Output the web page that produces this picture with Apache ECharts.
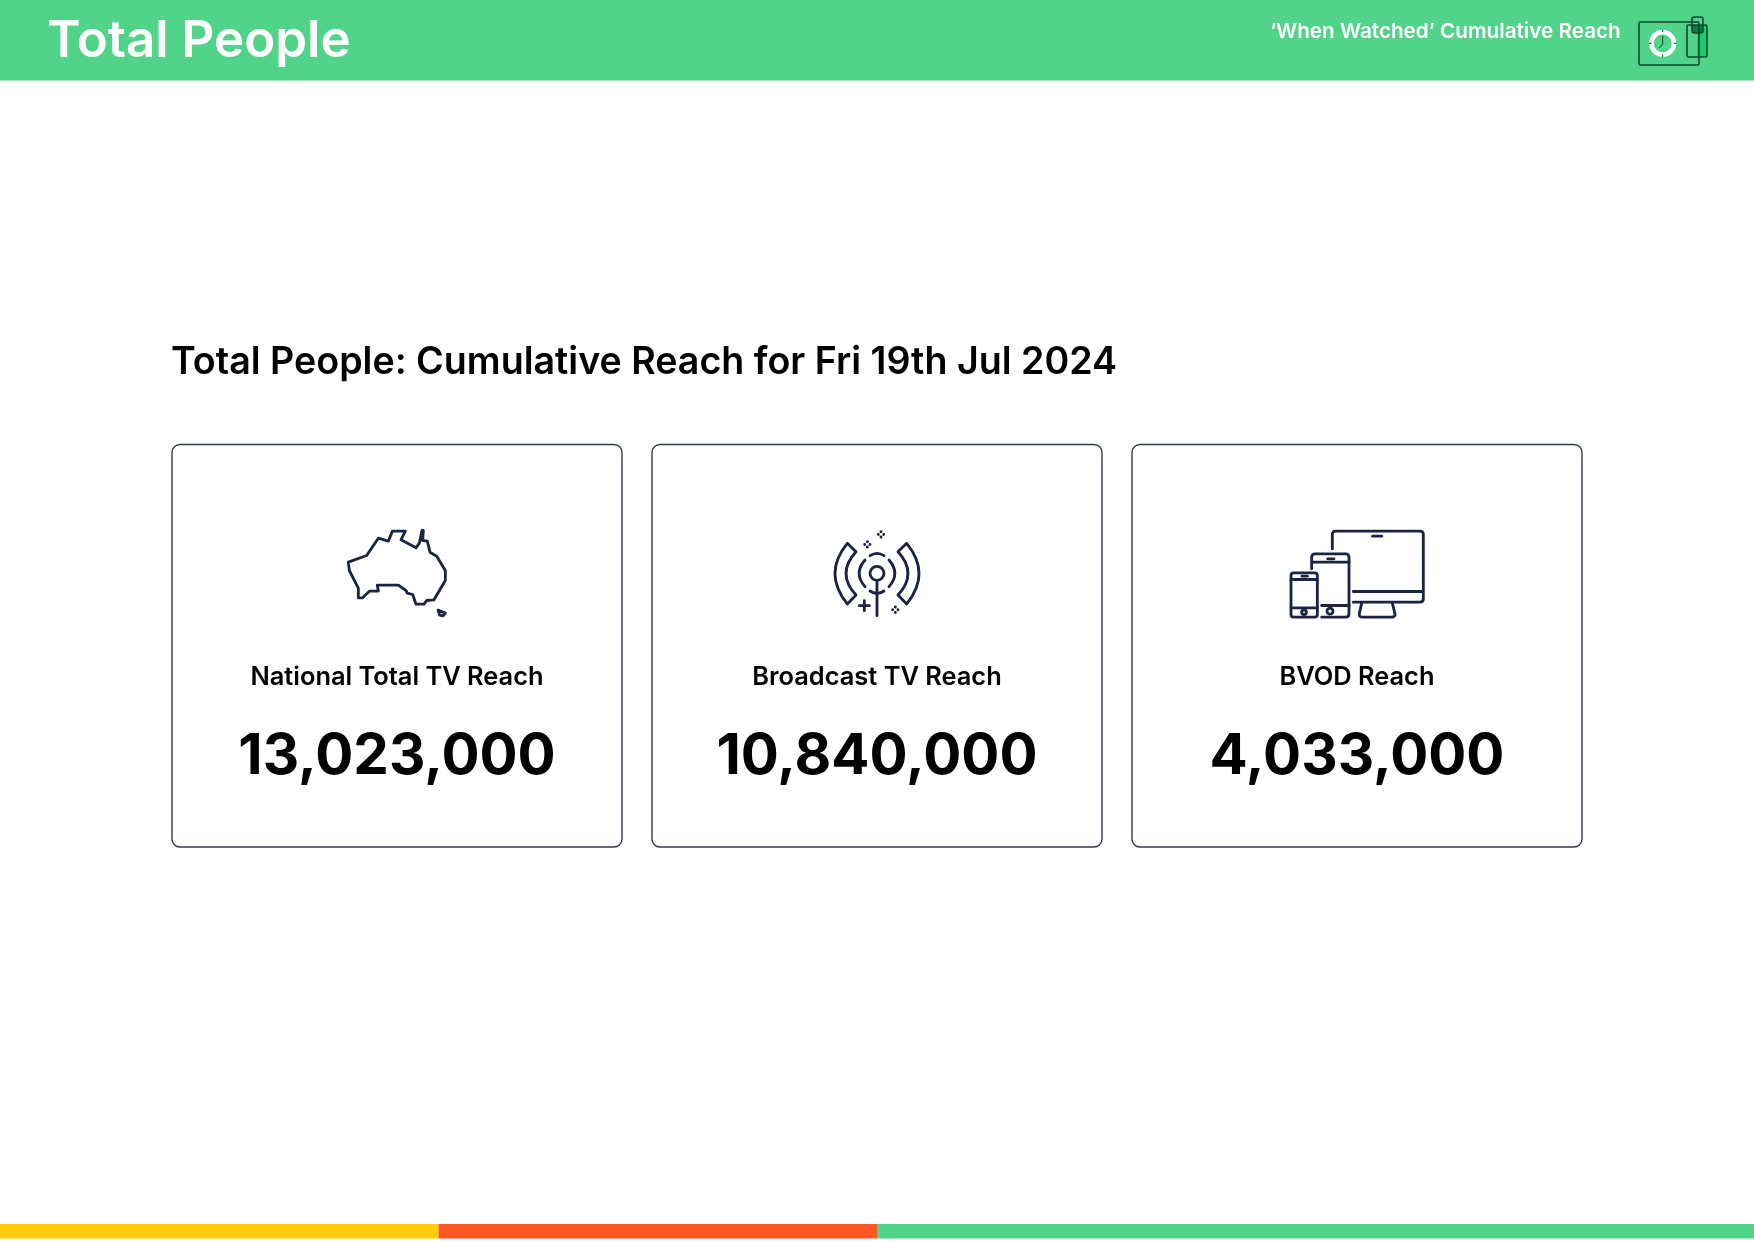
<!DOCTYPE html>
<html>
<head>
<meta charset="utf-8">
<title>Total People</title>
<style>
  html, body { margin: 0; padding: 0; background: #fff; }
  #chart { width: 1754px; height: 1241px; }
</style>
<script src="https://cdn.jsdelivr.net/npm/echarts@6/dist/echarts.min.js"></script>
</head>
<body>
<div id="chart"></div>
<script>
const headerTitle = "Total People"
const headerNote = "\u2018When Watched\u2019 Cumulative Reach"
const pageTitle = "Total People: Cumulative Reach for Fri 19th Jul 2024"
const cardLabels = ["National Total TV Reach", "Broadcast TV Reach", "BVOD Reach"]
const cardValues = ["13,023,000", "10,840,000", "4,033,000"]

const FONT = "Inter"
const GREEN = "#51d48a"
const INK = "#1b2440"
const CARD_LEFT = [172, 652, 1132]
const CARD_WIDTH = 450

// icons are traced at 3x, so each group is scaled down by a third
const ICON_PATHS = [
  [
    "M85 155L140 135L175 83L205 92L217 62L256 62L243 88L288 112L298 98L306 60L310 60L308 90L322 92L330 125L350 137L376 180L376 210L342 268L320 270L312 281L288 281L278 252L262 248L258 240L235 224L172 224L175 242L148 242L128 262L115 262L115 233L88 180Z",
    "M354 299L376 308L369 316L359 314Z"
  ],
  [
    "M112 85L138 110Q78 175 138 240L112 267Q38 175 112 85Z",
    "M290 85L264 110Q324 175 264 240L290 267Q364 175 290 85Z",
    "M165 135Q130 175 165 215",
    "M237 135Q272 175 237 215",
    "M180 122Q201 108 222 122",
    "M180 228Q201 242 222 228",
    "M222 175A21 21 0 1 1 180 175A21 21 0 1 1 222 175Z",
    "M201 197L201 302",
    "M148 272L178 272M163 257L163 287",
    "M213 50L213 50.5M205 58L205 58.5M221 58L221 58.5M213 66L213 66.5",
    "M172 80L172 80.5M164 88L164 88.5M180 88L180 88.5M172 96L172 96.5",
    "M256 276L256 276.5M248 284L248 284.5M264 284L264 284.5M256 292L256 292.5"
  ],
  [
    "M157 85L157 42Q157 32 167 32L420 32Q430 32 430 42L430 235Q430 245 420 245L220 245",
    "M220 213L428 213",
    "M278 47L305 47",
    "M245 248L238 280Q237 290 247 290L335 290Q346 290 345 280L337 248",
    "M95 145L95 110Q95 100 105 100L197 100Q207 100 207 110L207 280Q207 290 197 290L125 290",
    "M97 125L207 125",
    "M143 115L162 115",
    "M125 255L207 255",
    "M159 272A9 9 0 1 1 141 272A9 9 0 1 1 159 272Z",
    "M41 157L104 157Q112 157 112 165L112 282Q112 290 104 290L41 290Q33 290 33 282L33 165Q33 157 41 157Z",
    "M33 177L112 177",
    "M33 262L112 262",
    "M66 167L82 167",
    "M79 275A7 7 0 1 1 65 275A7 7 0 1 1 79 275Z"
  ]
]
const ICON_ORIGINS = [[320, 510.5], [810, 515], [1280, 520.5]]

// the graphic component has no plain path type, so register each outline as a shape
function registerPath(name, pathData) {
  echarts.graphic.registerShape(name, echarts.graphic.extendPath(pathData, {}))
  return name
}

function label(text, x, y, fontSize, fontWeight, fill, textAlign) {
  return {
    type: "text",
    style: {
      text: text,
      x: x,
      y: y,
      fontFamily: FONT,
      fontSize: fontSize,
      fontWeight: fontWeight,
      fill: fill,
      textAlign: textAlign,
      textVerticalAlign: "middle"
    }
  }
}

function box(x, y, width, height, fill) {
  return { type: "rect", shape: { x: x, y: y, width: width, height: height }, style: { fill: fill } }
}

function icon(paths, origin, iconIndex) {
  return {
    type: "group",
    x: origin[0],
    y: origin[1],
    scaleX: 1 / 3,
    scaleY: 1 / 3,
    children: paths.map((pathData, i) => ({
      type: registerPath("icon" + iconIndex + "_" + i, pathData),
      style: { fill: "none", stroke: INK, lineWidth: 8.5, lineCap: "round", lineJoin: "round" }
    }))
  }
}

function headerIcon() {
  const dark = "#0f4a2c"
  const outline = { fill: "none", stroke: dark, lineWidth: 1.6 }
  const tickLines = [
    [1662.7, 29.5, 1662.7, 32],
    [1662.7, 54.5, 1662.7, 57],
    [1649, 43.3, 1651.5, 43.3],
    [1674, 43.3, 1676.5, 43.3]
  ]
  return [
    box(1697, 25, 10, 32, "#1ccb6f"),
    box(1692, 25, 11, 8, "#0f7a40"),
    { type: "rect", shape: { x: 1639, y: 22, width: 60, height: 43, r: 1.5 }, style: outline },
    { type: "rect", shape: { x: 1687, y: 25, width: 20, height: 32, r: 1.5 }, style: outline },
    { type: "rect", shape: { x: 1692, y: 17, width: 11, height: 16, r: 2.5 }, style: outline },
    {
      type: "circle",
      shape: { cx: 1662.7, cy: 43.3, r: 11.3 },
      style: { fill: GREEN, stroke: "#fff", lineWidth: 4.6 }
    },
    {
      type: "polyline",
      shape: { points: [[1662.7, 36], [1662.7, 44], [1659, 48]] },
      style: { fill: "none", stroke: dark, lineWidth: 1 }
    },
    ...tickLines.map((t) => ({
      type: "line",
      shape: { x1: t[0], y1: t[1], x2: t[2], y2: t[3] },
      style: { stroke: dark, lineWidth: 1 }
    }))
  ]
}

const elements = [
  box(0, 0, 1754, 80.5, GREEN),
  label(headerTitle, 47, 42, 51, 600, "#fff", "left"),
  label(headerNote, 1270, 32, 20.7, 600, "#fff", "left"),
  ...headerIcon(),
  label(pageTitle, 171, 363, 37.6, 600, "#000", "left"),
  box(0, 1224, 438.5, 14.5, "#ffcd0a"),
  box(438.5, 1224, 438.5, 14.5, "#ff5726"),
  box(877, 1224, 877, 14.5, GREEN)
]

cardLabels.forEach((name, i) => {
  const center = CARD_LEFT[i] + CARD_WIDTH / 2
  elements.push({
    type: "rect",
    shape: { x: CARD_LEFT[i], y: 444.5, width: CARD_WIDTH, height: 402.5, r: 8 },
    style: { fill: "#fff", stroke: "#2e3a55", lineWidth: 1.4 }
  })
  elements.push(icon(ICON_PATHS[i], ICON_ORIGINS[i], i))
  elements.push(label(name, center, 677, 25.4, 600, "#000", "center"))
  elements.push(label(cardValues[i], center, 757, 56.5, 700, "#000", "center"))
})

const chart = echarts.init(document.getElementById("chart"))
chart.setOption({
  animation: false,
  backgroundColor: "#fff",
  graphic: { elements: elements }
})
</script>
</body>
</html>
